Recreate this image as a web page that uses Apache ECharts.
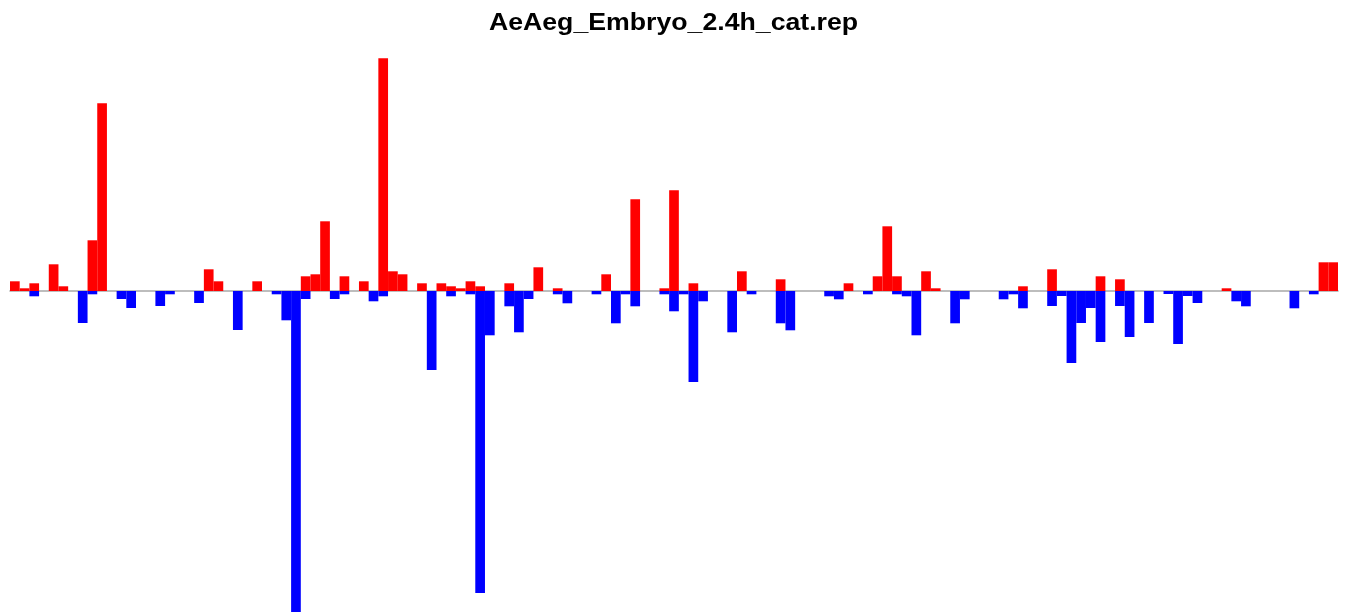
<!DOCTYPE html>
<html>
<head>
<meta charset="utf-8">
<script src="https://cdn.jsdelivr.net/npm/echarts@6/dist/echarts.min.js"></script>
<style>html,body{margin:0;padding:0;background:#fff;}#c{width:1347px;height:614px;}</style>
</head>
<body>
<div id="c"></div>
<script>
const titleText = "AeAeg_Embryo_2.4h_cat.rep";

// red (positive) values per category, index 0..136
const upValues = [
 9.7,2.7,7.7,0,26.7,4.7,0,0,50.7,187.7,
 0,0,0,0,0,0,0,0,0,0,
 21.7,9.7,0,0,0,9.7,0,0,0,0,
 14.7,16.7,69.7,0,14.7,0,9.7,0,232.7,19.7,
 16.7,0,7.7,0,7.7,4.7,2.7,9.7,4.7,0,
 0,7.7,0,0,23.7,0,2.7,0,0,0,
 0,16.7,0,0,91.7,0,0,2.7,100.7,0,
 7.7,0,0,0,0,19.7,0,0,0,11.7,
 0,0,0,0,0,0,7.7,0,0,14.7,
 64.7,14.7,0,0,19.7,2.7,0,0,0,0,
 0,0,0,0,4.7,0,0,21.7,0,0,
 0,0,14.7,0,11.7,0,0,0,0,0,
 0,0,0,0,0,2.7,0,0,0,0,
 0,0,0,0,0,28.7,28.7
];

// blue (negative) magnitudes per category
const downValues = [
 0,0,5.3,0,0,0,0,32,3.3,0,
 0,8,17,0,0,15,3.3,0,0,12,
 0,0,0,39,0,0,0,3.3,29.3,321,
 8,0,0,8,3.3,0,0,10.3,5.3,0,
 0,0,0,79,0,5.3,0,3.3,302,44.3,
 0,15.3,41.3,8,0,0,3.3,12.3,0,0,
 3.3,0,32.3,3.3,15.3,0,0,3.3,20.3,3.3,
 91,10.3,0,0,41.3,0,3.3,0,0,32.3,
 39.3,0,0,0,5.3,8.3,0,0,3.3,0,
 0,3.3,5.3,44.3,0,0,0,32.3,8.3,0,
 0,0,8.3,3.3,17.3,0,0,15,5,72,
 32,17,51,0,15,46,0,32,0,3,
 53,5,12,0,0,0,10.3,15.3,0,0,
 0,0,17.3,0,3.3,0,0
];

const categories = upValues.map((_, i) => String(i + 1));

const chart = echarts.init(document.getElementById('c'), null, {renderer: 'canvas'});
chart.setOption({
  animation: false,
  backgroundColor: '#ffffff',
  graphic: [{
    type: 'text',
    x: 673.5,
    y: 12,
    scaleX: 1.16,
    style: {
      text: titleText,
      font: 'bold 23px "Liberation Sans", Arial, sans-serif',
      fill: '#000000',
      textAlign: 'center',
      textVerticalAlign: 'top'
    }
  }],
  grid: {left: 10, width: 1328, top: 40, height: 574, containLabel: false},
  xAxis: {
    type: 'category',
    data: categories,
    boundaryGap: true,
    axisLine: {show: true, onZero: true, lineStyle: {color: '#a8a8a8', width: 1.6}},
    axisTick: {show: false},
    axisLabel: {show: false},
    splitLine: {show: false}
  },
  yAxis: {
    type: 'value',
    min: -323,
    max: 251,
    show: false,
    splitLine: {show: false}
  },
  series: [
    {
      type: 'bar',
      data: upValues,
      barWidth: '100%',
      barGap: '-100%',
      itemStyle: {color: '#ff0000'},
      z: 3
    },
    {
      type: 'bar',
      data: downValues.map(v => -v),
      barWidth: '100%',
      barGap: '-100%',
      itemStyle: {color: '#0000ff'},
      z: 3
    }
  ]
});
</script>
</body>
</html>
